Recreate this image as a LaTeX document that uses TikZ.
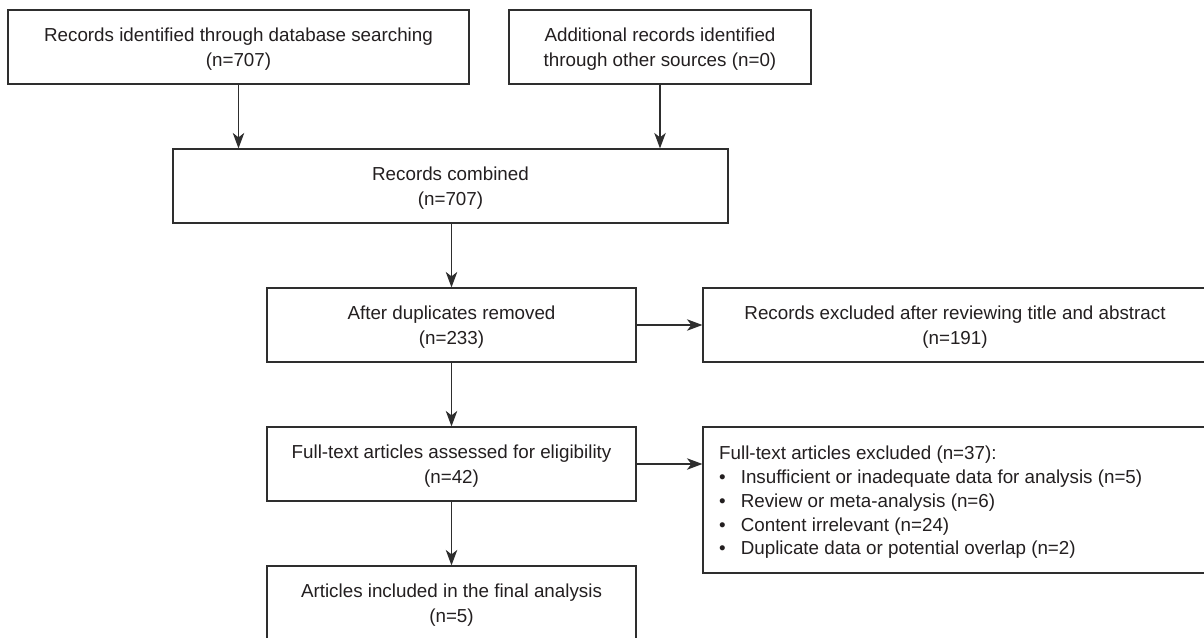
\documentclass[tikz,border=0pt]{standalone}
\usepackage{fontspec}
\setmainfont{Liberation Sans}
\usetikzlibrary{arrows.meta}
\definecolor{linec}{HTML}{2E2E2E}
\definecolor{textc}{HTML}{231F20}
\begin{document}
\begin{tikzpicture}[x=1pt,y=-1pt,
  box/.style={draw=linec,line width=1.2pt,rectangle,minimum height=74pt,inner sep=0pt,
    align=center,text=textc,text depth=0pt,font=\fontsize{18.8}{25}\selectfont},
  arr/.style={draw=linec,line width=1.2pt,-{Stealth[length=15.5pt,width=11.5pt,inset=4.5pt]}}]
\useasboundingbox (0,0) rectangle (1204,637);
\clip (0,0) rectangle (1204,637);
\fill[white] (0,0) rectangle (1204,637);
\node[box,minimum width=461pt] (b1) at (238.5,47) {Records identified through database searching\\(n=707)};
\node[box,minimum width=302pt] (b2) at (660,47) {Additional records identified\\through other sources (n=0)};
\node[box,minimum width=555pt] (b3) at (450.5,186) {Records combined\\(n=707)};
\node[box,minimum width=369pt] (b4) at (451.5,325) {After duplicates removed\\(n=233)};
\node[box,minimum width=504pt] (b5) at (955,325) {Records excluded after reviewing title and abstract\\(n=191)};
\node[box,minimum width=369pt] (b6) at (451.5,464) {Full-text articles assessed for eligibility\\(n=42)};
\node[box,minimum width=504pt,minimum height=146pt] (b7) at (955,500) {};
\node[anchor=west,align=left,inner sep=0pt,text=textc,font=\fontsize{18.8}{23.8}\selectfont] (b7t) at (719,502.5)
  {Full-text articles excluded (n=37):\\
   \textbullet\hspace{15pt}Insufficient or inadequate data for analysis (n=5)\\
   \textbullet\hspace{15pt}Review or meta-analysis (n=6)\\
   \textbullet\hspace{15pt}Content irrelevant (n=24)\\
   \textbullet\hspace{15pt}Duplicate data or potential overlap (n=2)};
\node[box,minimum width=369pt] (b8) at (451.5,603) {Articles included in the final analysis\\(n=5)};
\draw[arr] (b1.south) -- (b1.south |- b3.north);
\draw[arr] (b2.south) -- (b2.south |- b3.north);
\draw[arr] (b4.north |- b3.south) -- (b4.north);
\draw[arr] (b4.south) -- (b6.north);
\draw[arr] (b6.south) -- (b8.north);
\draw[arr] (b4.east) -- (b5.west);
\draw[arr] (b6.east) -- (b6.east -| b7.west);
\end{tikzpicture}
\end{document}
